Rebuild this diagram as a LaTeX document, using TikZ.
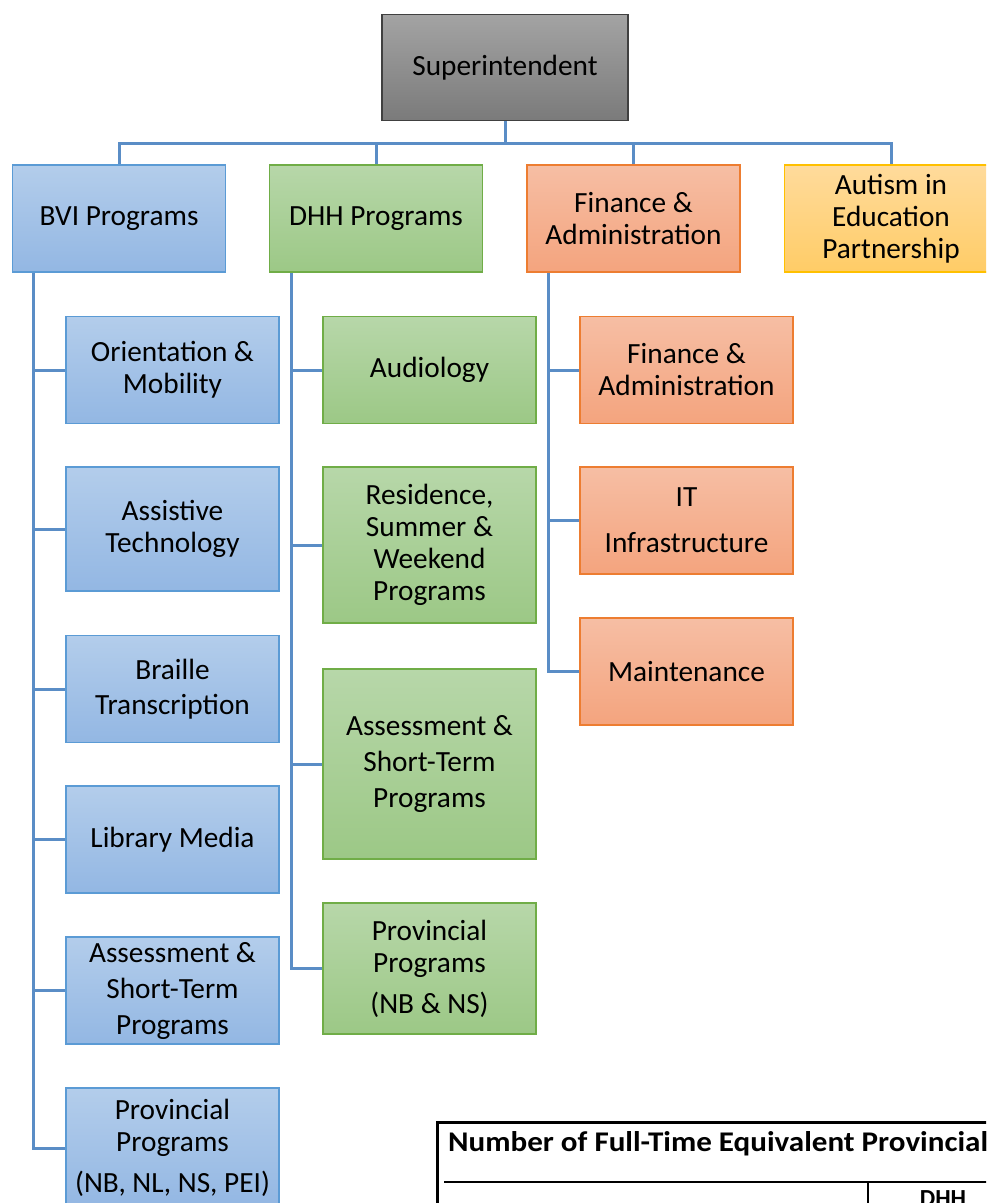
\documentclass[tikz,border=0pt]{standalone}
\usepackage{graphicx}
\usepackage{fontspec}
\setmainfont{Carlito}
\begin{document}
\begin{tikzpicture}[x=1pt,y=-1pt,
  box/.style={rectangle, draw, line width=1.5pt, minimum width=213pt, minimum height=107pt,
    align=center, inner sep=2pt, font=\fontsize{29.3}{32}\selectfont, text=black},
  graybox/.style={box, draw=black!75, top color=black!36, bottom color=black!52},
  bluebox/.style={box, draw=blue4, top color=blue1, bottom color=blue2},
  greenbox/.style={box, draw=green4, top color=green1, bottom color=green2},
  orangebox/.style={box, draw=orange4, top color=orange1, bottom color=orange2},
  yellowbox/.style={box, draw=yellow4, top color=yellow1, bottom color=yellow2},
  conn/.style={draw=linkblue, line width=3pt},
  tbl/.style={draw=black, line width=2.2pt},
  tabletext/.style={inner sep=0pt, font=\fontsize{24.5}{28}\selectfont\bfseries},
]
\definecolor{blue1}{HTML}{B3CDEB}
\definecolor{blue2}{HTML}{93B7E3}
\definecolor{blue4}{HTML}{5B9BD5}
\definecolor{green1}{HTML}{B7D7A9}
\definecolor{green2}{HTML}{9CC886}
\definecolor{green4}{HTML}{70AD47}
\definecolor{orange1}{HTML}{F6BEA4}
\definecolor{orange2}{HTML}{F4A47E}
\definecolor{orange4}{HTML}{ED7D31}
\definecolor{yellow1}{HTML}{FFDB9C}
\definecolor{yellow2}{HTML}{FFCC66}
\definecolor{yellow4}{HTML}{FFC000}
\definecolor{linkblue}{HTML}{5A8DC6}

\clip (0,0) rectangle (986,1203);
\fill[white] (0,0) rectangle (986,1203);

% top level
\node[graybox, minimum width=246pt, minimum height=106pt] (sup) at (505,67.5) {Superintendent};

% first level
\node[bluebox]   (bvi) at (119,218.5)   {BVI Programs};
\node[greenbox]  (dhh) at (376,218.5)   {DHH Programs};
\node[orangebox] (fin) at (633.5,218.5) {Finance \&\\Administration};
\node[yellowbox] (aut) at (891,218.5)   {Autism in\\Education\\Partnership};

% BVI programs
\node[bluebox] (om)   at (172.5,370)   {Orientation \&\\Mobility};
\node[bluebox, minimum height=124pt] (at) at (172.5,529) {Assistive\\Technology};
\node[bluebox] (br)   at (172.5,689)   {Braille\\[3pt]Transcription};
\node[bluebox] (lm)   at (172.5,839.5) {Library Media};
\node[bluebox] (bas)  at (172.5,990.5) {Assessment \&\\[4pt]Short-Term\\[4pt]Programs};
\node[bluebox, minimum height=120pt] (bpr) at (172.5,1148) {Provincial\\Programs\\[9pt](NB, NL, NS, PEI)};

% DHH programs
\node[greenbox] (aud) at (429.5,370) {Audiology};
\node[greenbox, minimum height=156pt] (res) at (429.5,545) {Residence,\\Summer \&\\Weekend\\Programs};
\node[greenbox, minimum height=190pt] (das) at (429.5,764) {Assessment \&\\[4pt]Short-Term\\[4pt]Programs};
\node[greenbox, minimum height=131pt] (dpr) at (429.5,968.5) {Provincial\\Programs\\[9pt](NB \& NS)};

% finance & administration
\node[orangebox] (fa)  at (686.5,370)   {Finance \&\\Administration};
\node[orangebox] (it)  at (686.5,520.5) {IT\\[14pt]Infrastructure};
\node[orangebox] (mnt) at (686.5,671.5) {Maintenance};

% connectors, top level
\coordinate (hub) at (505,143);
\draw[conn] (sup.south) -- (hub);
\draw[conn] (bvi.north) |- (hub) -| (aut.north);
\draw[conn] (dhh.north) -- (dhh.north |- hub);
\draw[conn] (fin.north) -- (fin.north |- hub);

% connectors, BVI
\coordinate (bvitrunk) at (33,0);
\draw[conn] (bvi.south -| bvitrunk) |- (bpr.west);
\foreach \c in {om,at,br,lm,bas}
  \draw[conn] (bvitrunk |- \c.west) -- (\c.west);

% connectors, DHH
\coordinate (dhhtrunk) at (291.5,0);
\draw[conn] (dhh.south -| dhhtrunk) |- (dpr.west);
\foreach \c in {aud,res,das}
  \draw[conn] (dhhtrunk |- \c.west) -- (\c.west);

% connectors, finance
\coordinate (fintrunk) at (548.5,0);
\draw[conn] (fin.south -| fintrunk) |- (mnt.west);
\foreach \c in {fa,it}
  \draw[conn] (fintrunk |- \c.west) -- (\c.west);

% staffing table
\draw[tbl] (1000,1122.5) -- (437.5,1122.5) -- (437.5,1210);
\draw[tbl] (444,1182) -- (1000,1182);
\draw[tbl] (868,1182) -- (868,1210);
\node[tabletext, anchor=base west, font=\fontsize{28.5}{32}\selectfont\bfseries] (thead) at (448,1151)
  {\scalebox{1.09}[1]{Number of Full-Time Equivalent Provincial}};
\node[tabletext, anchor=base] (tdhh) at (943,1206) {DHH};
\end{tikzpicture}
\end{document}
